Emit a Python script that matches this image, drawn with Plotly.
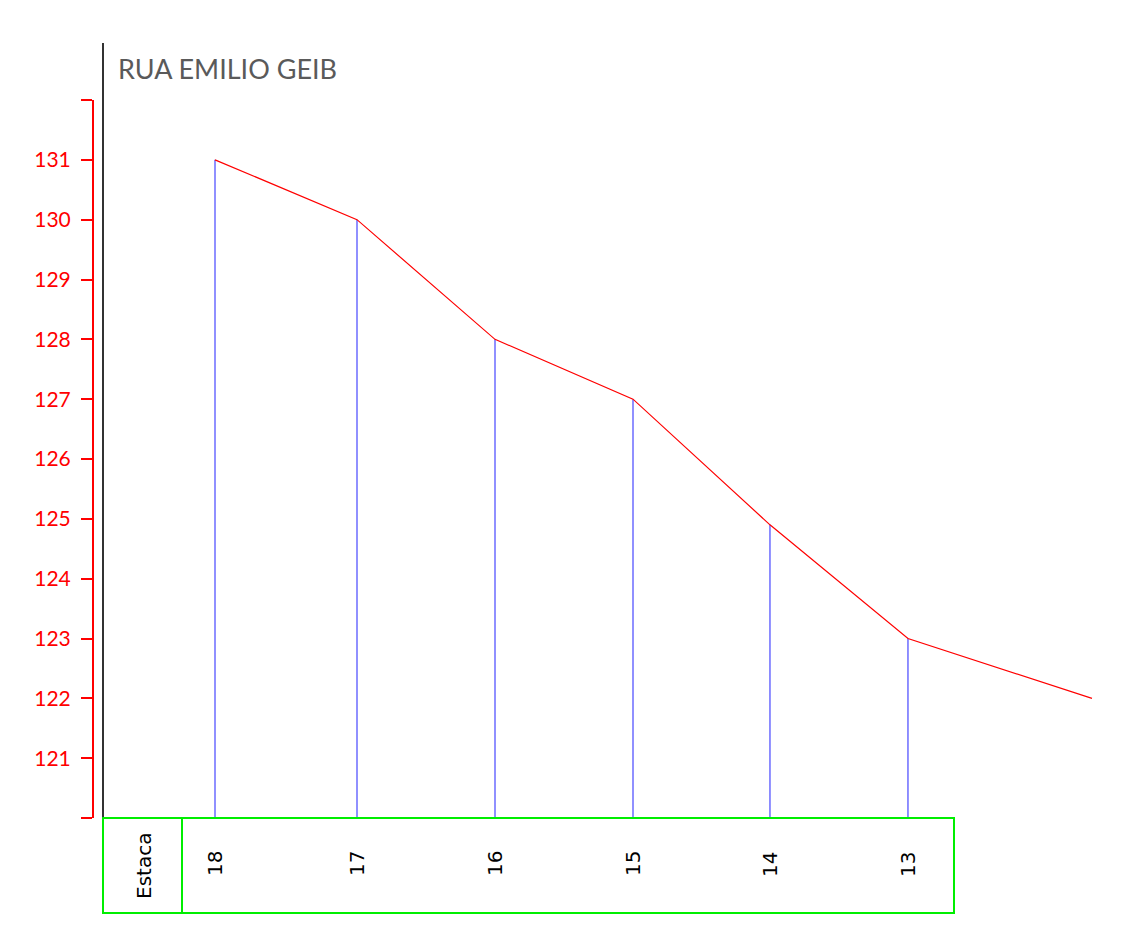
import plotly.graph_objects as go

# Data
stations = ["18", "17", "16", "15", "14", "13"]
distance = [0.0, 20.58, 40.58, 60.58, 80.43, 100.43, 127.1]   # m along profile
elevation = [131.0, 130.0, 128.0, 127.0, 124.9, 123.0, 122.0]  # m
y_ticks = list(range(120, 133))
y_tick_text = ["" if v in (120, 132) else str(v) for v in y_ticks]
title_text = "RUA EMILIO GEIB"
table_header = "Estaca"

W, H = 1125, 925
OFF = 8  # page offset of the figure
def px_x(p): return (p - OFF) / W
def px_y(p): return 1 - (p - OFF) / H

base = 120
vx, vy = [], []
for d, e in zip(distance[:len(stations)], elevation[:len(stations)]):
    vx += [d, d, None]
    vy += [e, base, None]

fig = go.Figure()
fig.add_trace(go.Scatter(x=vx, y=vy, mode="lines",
                         line=dict(color="#4646ff", width=1.2),
                         hoverinfo="skip", showlegend=False))
fig.add_trace(go.Scatter(x=distance, y=elevation, mode="lines",
                         line=dict(color="#ff0000", width=1.2),
                         hoverinfo="skip", showlegend=False))

for d, s in zip(distance, stations):
    fig.add_annotation(x=d, y=px_y(864), xref="x", yref="paper", text=s,
                       showarrow=False, textangle=-90,
                       font=dict(family="DejaVu Sans", size=20, color="#000000"),
                       xanchor="center", yanchor="middle")

fig.add_annotation(x=px_x(144), y=px_y(866), xref="paper", yref="paper", text=table_header,
                   showarrow=False, textangle=-90,
                   font=dict(family="DejaVu Sans", size=20, color="#000000"),
                   xanchor="center", yanchor="middle")

fig.add_annotation(x=px_x(116), y=px_y(69), xref="paper", yref="paper", text=title_text,
                   showarrow=False, xanchor="left", yanchor="middle",
                   font=dict(family="Lato", size=27, color="#5a5a5a"))

fig.add_shape(type="line", xref="paper", yref="paper",
              x0=px_x(103), x1=px_x(103), y0=px_y(43), y1=px_y(818),
              line=dict(color="#333333", width=2))
fig.add_shape(type="rect", xref="paper", yref="paper",
              x0=px_x(103), x1=px_x(954), y0=px_y(913), y1=px_y(818),
              line=dict(color="#00ee00", width=2))
fig.add_shape(type="line", xref="paper", yref="paper",
              x0=px_x(182), x1=px_x(182), y0=px_y(913), y1=px_y(818),
              line=dict(color="#00ee00", width=2))

scale = 6.9
x0 = (103 - 215) / scale
x1 = (1125 + OFF - 215) / scale

fig.update_layout(
    width=W, height=H,
    margin=dict(l=0, r=0, t=0, b=0),
    paper_bgcolor="white", plot_bgcolor="white",
    hovermode=False,
    xaxis=dict(domain=[px_x(103), 1], range=[x0, x1], visible=False,
               showgrid=False, zeroline=False),
    yaxis=dict(domain=[px_y(818), px_y(100)], range=[120, 132],
               anchor="free", position=px_x(93),
               showline=True, linecolor="#ff0000", linewidth=2,
               ticks="outside", ticklen=11, tickcolor="#ff0000", tickwidth=2,
               tickvals=y_ticks, ticktext=y_tick_text,
               tickfont=dict(family="Lato", size=21, color="#ff0000"),
               ticklabelstandoff=6,
               showgrid=False, zeroline=False),
)

fig.write_html("out.html")
